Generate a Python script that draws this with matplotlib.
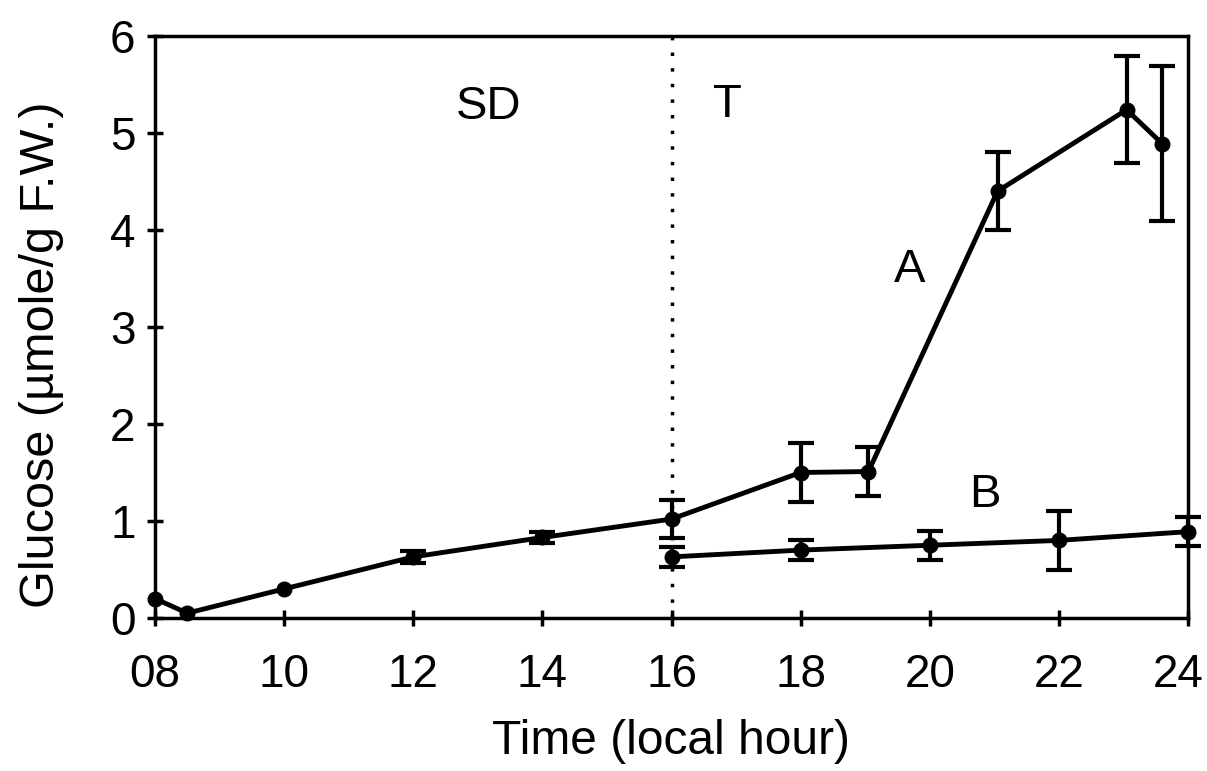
import matplotlib
matplotlib.use("Agg")
import matplotlib.pyplot as plt
from matplotlib.transforms import ScaledTranslation

plt.rcParams["font.family"] = ["Liberation Sans", "DejaVu Sans"]

# series A (morning + afternoon, treated)
hours_a = [8.0, 8.5, 10.0, 12.0, 14.0, 16.0, 18.0, 19.05, 21.05, 23.05, 23.6]
glucose_a = [0.2, 0.05, 0.3, 0.63, 0.83, 1.02, 1.5, 1.51, 4.4, 5.24, 4.89]
err_a = [0.0, 0.0, 0.0, 0.06, 0.06, 0.2, 0.3, 0.25, 0.4, 0.55, 0.8]

# series B
hours_b = [16.0, 18.0, 20.0, 22.0, 24.0]
glucose_b = [0.63, 0.70, 0.75, 0.80, 0.89]
err_b = [0.1, 0.1, 0.15, 0.3, 0.15]

xticks = [8, 10, 12, 14, 16, 18, 20, 22, 24]
xtick_labels = ["08", "10", "12", "14", "16", "18", "20", "22", "24"]
yticks = [0, 1, 2, 3, 4, 5, 6]

fig = plt.figure(figsize=(12.07, 7.71), dpi=100)
ax = fig.add_axes([155 / 1207, 1 - 618 / 771, (1188 - 155) / 1207, (618 - 36) / 771])

for xs, ys, es in [(hours_a, glucose_a, err_a), (hours_b, glucose_b, err_b)]:
    ax.plot(xs, ys, color="black", lw=3.5, marker="o", ms=10.5, clip_on=False)
    # only points with a measured spread get a bar
    keep = [i for i, e in enumerate(es) if e > 0]
    ax.errorbar([xs[i] for i in keep], [ys[i] for i in keep],
                yerr=[es[i] for i in keep], fmt="none", ecolor="black",
                elinewidth=3, capsize=9.5, capthick=3, clip_on=False)

ax.axvline(16, color="black", lw=2.5, linestyle=(0, (1, 3.5)))

ax.set_xlim(8, 24)
ax.set_ylim(0, 6)
ax.set_xticks(xticks)
ax.set_xticklabels(xtick_labels)
ax.set_yticks(yticks)
ax.tick_params(direction="inout", length=12, width=2.5, labelsize=33)
ax.tick_params(axis="x", pad=19)
ax.tick_params(axis="y", pad=8)
for s in ax.spines.values():
    s.set_linewidth(2.5)

# nudge the last x label inward, as in the original
last = ax.get_xticklabels()[-1]
last.set_transform(last.get_transform() + ScaledTranslation(-10 / 100, 0, fig.dpi_scale_trans))

ax.set_xlabel("Time (local hour)", fontsize=34.5, labelpad=16)
ax.set_ylabel("Glucose (\u00b5mole/g F.W.)", fontsize=35)
ax.yaxis.set_label_coords(-0.088, 0.452)

ax.text(13.17, 5.27, "SD", fontsize=34, ha="center", va="center")
ax.text(16.87, 5.29, "T", fontsize=34, ha="center", va="center")
ax.text(19.69, 3.59, "A", fontsize=34, ha="center", va="center")
ax.text(20.86, 1.27, "B", fontsize=34, ha="center", va="center")

fig.savefig("out.png", dpi=100)
